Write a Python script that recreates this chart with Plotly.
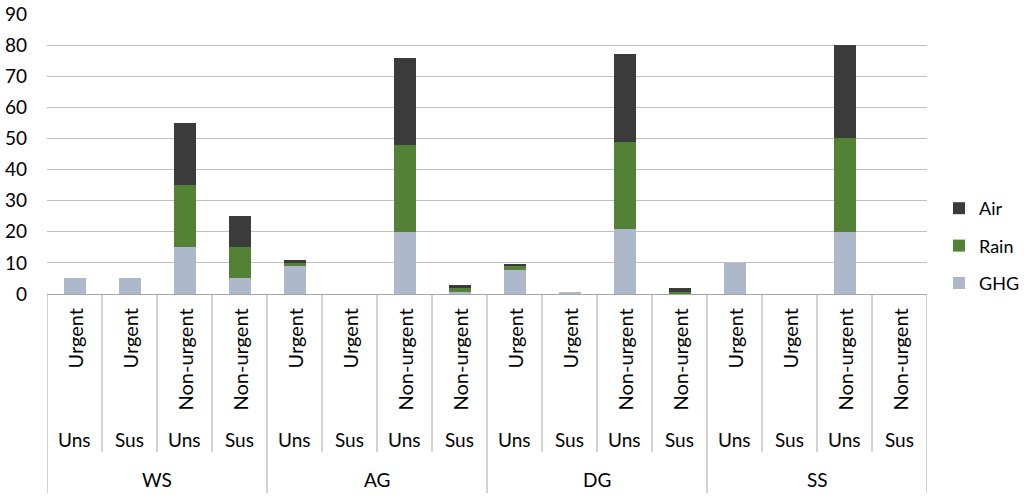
import plotly.graph_objects as go

groups = ["WS", "AG", "DG", "SS"]
sustain = ["Uns", "Sus", "Uns", "Sus"]
urgency = ["Urgent", "Urgent", "Non-urgent", "Non-urgent"]

ghg = [5, 5, 15, 5, 9, 0, 20, 0.5, 7.7, 0.6, 21, 0.1, 10, 0, 20, 0]
rain = [0, 0, 20, 10, 1, 0, 28, 1.3, 1.4, 0, 28, 0.7, 0, 0, 30, 0]
air = [0, 0, 20, 10, 0.8, 0, 28, 1, 0.7, 0, 28, 1.2, 0, 0, 30, 0]

series = [("GHG", ghg, "#adb9ca", 3), ("Rain", rain, "#538135", 2), ("Air", air, "#3b3b3b", 1)]

n = len(groups) * len(sustain)
xs = list(range(n))
FONT = "Lato"

W, H = 1024, 496

fig = go.Figure()
for name, vals, col, rank in series:
    fig.add_trace(go.Bar(x=xs, y=vals, name=name, marker_color=col,
                         marker_line_width=0, legendgroup=name, legendrank=rank))

# plot area in pixels: left 47, right 927, top 14, bottom 294
L, R, T, B = 47, 927, 14, 294
PW = W - L

def py(p):
    return (B - p) / float(B - T)

def px(p):
    return (p - L) / float(PW)

annotations = []
shapes = []
line_col = "#a6a6a6"
for i in xs:
    k = i % len(sustain)
    annotations.append(dict(x=i, y=py(307), xref="x", yref="paper", text=urgency[k],
                            textangle=-90, showarrow=False, xanchor="center", yanchor="top",
                            font=dict(size=20, family=FONT, color="#000")))
    annotations.append(dict(x=i, y=py(439), xref="x", yref="paper", text=sustain[k],
                            showarrow=False, xanchor="center", yanchor="middle",
                            font=dict(size=19, family=FONT, color="#000")))
for g, name in enumerate(groups):
    cx = g * len(sustain) + (len(sustain) - 1) / 2
    annotations.append(dict(x=cx, y=py(480), xref="x", yref="paper", text=name,
                            showarrow=False, xanchor="center", yanchor="middle",
                            font=dict(size=19, family=FONT, color="#000")))

for i in range(n + 1):
    bottom = 493 if i % len(sustain) == 0 else 452
    shapes.append(dict(type="line", xref="x", yref="paper", x0=i - 0.5, x1=i - 0.5,
                       y0=0, y1=py(bottom), line=dict(color=line_col, width=1)))

fig.update_layout(
    width=W, height=H,
    margin=dict(l=L, r=0, t=T, b=H - B, autoexpand=False),
    paper_bgcolor="white", plot_bgcolor="white",
    barmode="stack", bargap=0.6,
    font=dict(family=FONT, size=19, color="#000"),
    xaxis=dict(domain=[0, px(R)], range=[-0.5, n - 0.5], showticklabels=False, showgrid=False,
               showline=True, linecolor=line_col, linewidth=1, zeroline=False, ticks="",
               automargin=False),
    yaxis=dict(range=[0, 90], dtick=10, showgrid=True, gridcolor="#bfbfbf", gridwidth=1,
               showline=False, zeroline=False, ticks="", tickfont=dict(size=19, family=FONT),
               ticklabelstandoff=19, automargin=False),
    legend=dict(x=px(939), y=py(190), xanchor="left", yanchor="top",
                traceorder="grouped", tracegroupgap=11,
                font=dict(size=18, family=FONT), itemwidth=30,
                bgcolor="rgba(0,0,0,0)"),
    annotations=annotations, shapes=shapes,
)

fig.write_html("out.html", config={"displayModeBar": False},
               post_script="document.body.style.margin='0';document.body.style.overflow='hidden';")
